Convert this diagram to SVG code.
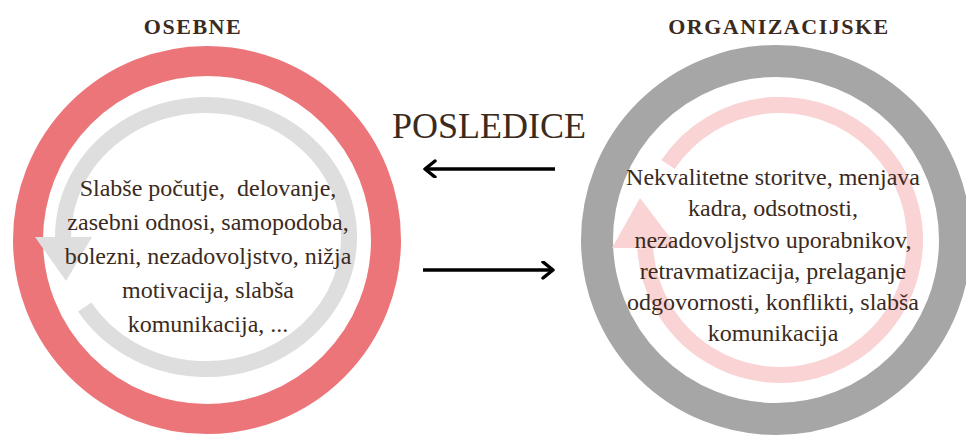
<svg xmlns="http://www.w3.org/2000/svg" width="966" height="435" viewBox="0 0 966 435">
  <style>
    .title { font-family: "Liberation Serif", "Times New Roman", serif; font-weight: bold; font-size: 22px; letter-spacing: 1.5px; fill: #3b2a20; text-anchor: middle; }
    .head { font-family: "Liberation Serif", "Times New Roman", serif; font-size: 36px; fill: #3b2a20; text-anchor: middle; }
    .label { font-family: "Liberation Serif", "Times New Roman", serif; font-size: 24px; fill: #3b2a20; text-anchor: middle; }
    .conn { stroke: #000; stroke-width: 3.5; fill: none; }
  </style>
  <defs>
    <marker id="chevron" markerUnits="userSpaceOnUse" markerWidth="16" markerHeight="20" refX="12" refY="9" orient="auto">
      <path d="M2,1 L12,9 L2,17" fill="none" stroke="#000" stroke-width="3.5" stroke-linecap="round" stroke-linejoin="round"/>
    </marker>
  </defs>

  <rect width="966" height="435" fill="#fff"/>

  <!-- personal consequences -->
  <g id="osebne">
    <circle cx="207" cy="240" r="179" fill="none" stroke="#eb7579" stroke-width="30"/>
    <path d="M84.7,307 A143,132 0 1 0 63,237" fill="none" stroke="#dedede" stroke-width="16"/>
    <polygon points="35,237 92,237 66,281" fill="#dedede"/>
    <text class="title" x="193" y="34">OSEBNE</text>
    <text class="label" x="208" y="196" xml:space="preserve">Slabše počutje,  delovanje,</text>
    <text class="label" x="208" y="230">zasebni odnosi, samopodoba,</text>
    <text class="label" x="208" y="264">bolezni, nezadovoljstvo, nižja</text>
    <text class="label" x="208" y="298">motivacija, slabša</text>
    <text class="label" x="208" y="332">komunikacija, ...</text>
  </g>

  <!-- organisational consequences -->
  <g id="organizacijske">
    <circle cx="776" cy="240" r="179" fill="none" stroke="#a6a6a6" stroke-width="32"/>
    <path d="M668,164.5 A135,135 0 1 1 645.2,248" fill="none" stroke="#fad3d4" stroke-width="16"/>
    <polygon points="612,248 678,248 640,198" fill="#fad3d4"/>
    <text class="title" x="779" y="34">ORGANIZACIJSKE</text>
    <text class="label" x="773" y="185">Nekvalitetne storitve, menjava</text>
    <text class="label" x="773" y="216">kadra, odsotnosti,</text>
    <text class="label" x="773" y="248">nezadovoljstvo uporabnikov,</text>
    <text class="label" x="773" y="279">retravmatizacija, prelaganje</text>
    <text class="label" x="773" y="310">odgovornosti, konflikti, slabša</text>
    <text class="label" x="773" y="341">komunikacija</text>
  </g>

  <g id="posledice">
    <text class="head" x="489" y="138">POSLEDICE</text>
  </g>

  <!-- connectors between the two circles -->
  <g id="connectors">
    <line class="conn" x1="555" y1="169" x2="425" y2="169" marker-end="url(#chevron)"/>
    <line class="conn" x1="423" y1="270" x2="553" y2="270" marker-end="url(#chevron)"/>
  </g>
</svg>
